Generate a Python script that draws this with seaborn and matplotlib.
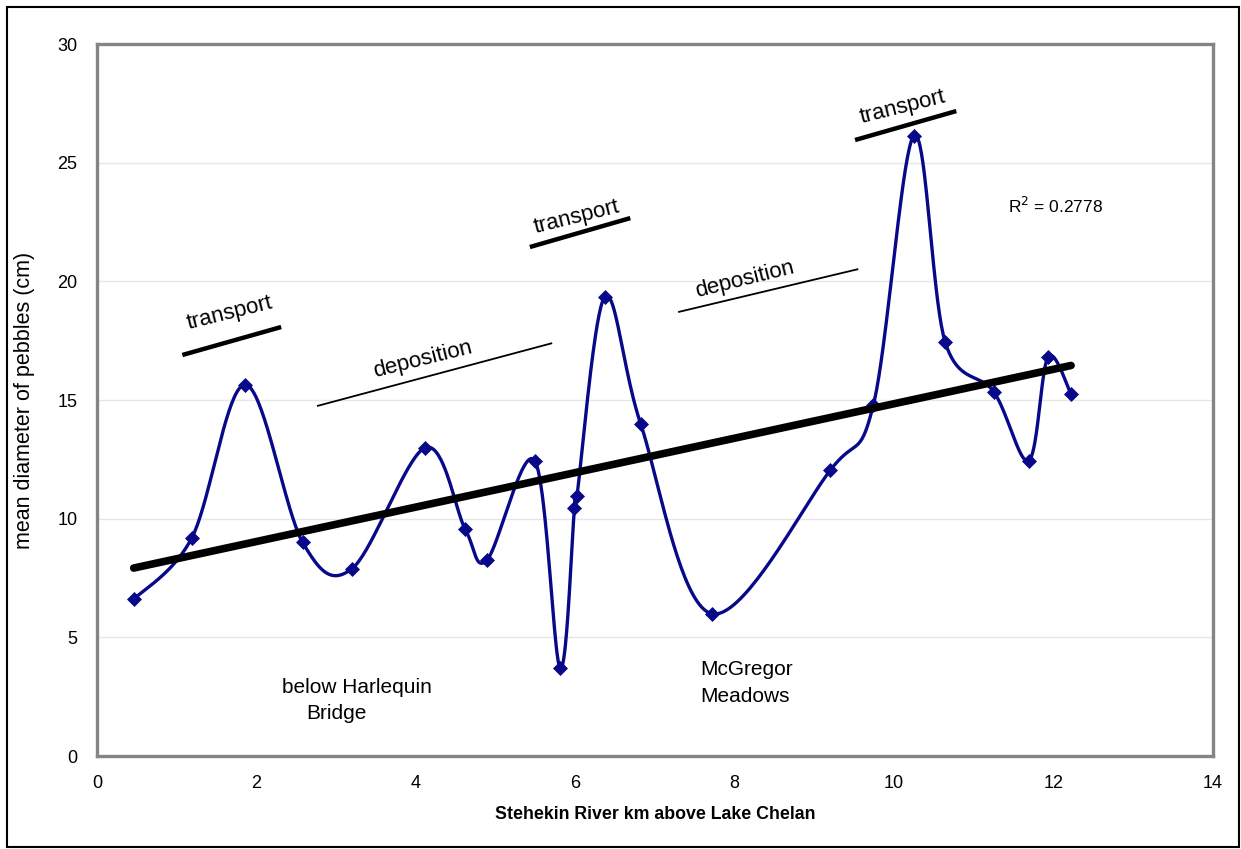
import numpy as np
import pandas as pd
import matplotlib.pyplot as plt
import seaborn as sns
from matplotlib.patches import Rectangle

river_km = [0.46, 1.19, 1.86, 2.58, 3.20, 4.12, 4.62, 4.89, 5.49, 5.81,
            5.99, 6.02, 6.37, 6.82, 7.71, 9.20, 9.74, 10.25, 10.64, 11.25,
            11.69, 11.93, 12.22]
diameter_cm = [6.6, 9.2, 15.65, 9.0, 7.9, 13.0, 9.55, 8.25, 12.45, 3.7,
               10.45, 10.95, 19.35, 14.0, 6.0, 12.05, 14.8, 26.15, 17.45, 15.35,
               12.45, 16.8, 15.25]

# annotation segments: (label, x0, y0, x1, y1, thick)
seg_labels = ['transport', 'deposition', 'transport', 'deposition', 'transport']
seg_x0 = [1.07, 2.76, 5.43, 7.29, 9.51]
seg_y0 = [16.9, 14.75, 21.45, 18.71, 25.96]
seg_x1 = [2.31, 5.71, 6.69, 9.55, 10.78]
seg_y1 = [18.08, 17.4, 22.67, 20.52, 27.18]
seg_thick = [True, False, True, False, True]
label_x = [1.67, 4.09, 6.02, 8.13, 10.11]
label_y = [18.67, 16.69, 22.71, 20.06, 27.35]

df = pd.DataFrame({'km': river_km, 'diam': diameter_cm})


def smooth_curve(x, y, sx, sy, n=40):
    # excel-style smoothed line (bezier through points), done in screen-ish units
    P = np.column_stack([np.asarray(x) * sx, np.asarray(y) * sy])
    P = np.vstack([P[0], P, P[-1]])
    out = []
    for i in range(1, len(P) - 2):
        p0, p1, p2, p3 = P[i - 1], P[i], P[i + 1], P[i + 2]
        c1 = p1 + (p2 - p0) / 6
        c2 = p2 - (p3 - p1) / 6
        t = np.linspace(0, 1, n)[:, None]
        seg = ((1 - t) ** 3) * p1 + 3 * ((1 - t) ** 2) * t * c1 + 3 * (1 - t) * t ** 2 * c2 + t ** 3 * p2
        out.append(seg if i == 1 else seg[1:])
    out = np.vstack(out)
    return out[:, 0] / sx, out[:, 1] / sy


sns.set_style("white")
plt.rcParams['font.family'] = ['Liberation Sans', 'DejaVu Sans']
plt.rcParams['text.color'] = 'black'
plt.rcParams['axes.labelcolor'] = 'black'
plt.rcParams['xtick.labelcolor'] = 'black'
plt.rcParams['ytick.labelcolor'] = 'black'

fig = plt.figure(figsize=(12.41, 8.49), dpi=100)
ax = fig.add_axes([0.0782, 0.1095, 0.8992, 0.8385])

# smoothed data line
sx_, sy_ = smooth_curve(df['km'], df['diam'], 79.7, 23.73)
curve = pd.DataFrame({'km': sx_, 'diam': sy_})
sns.lineplot(data=curve, x='km', y='diam', sort=False, color='#08088a', lw=2.4, ax=ax, zorder=3)
sns.scatterplot(data=df, x='km', y='diam', marker='D', s=50, color='#08088a',
                edgecolor='#08088a', ax=ax, zorder=4)

# linear trendline
slope, icpt = np.polyfit(df['km'], df['diam'], 1)
trend = pd.DataFrame({'km': [df['km'].min(), df['km'].max()]})
trend['diam'] = icpt + slope * trend['km']
sns.lineplot(data=trend, x='km', y='diam', color='black', lw=5.5, ax=ax, zorder=5)

# transport / deposition markers
for lab, x0, y0, x1, y1, thick, tx, ty in zip(seg_labels, seg_x0, seg_y0, seg_x1, seg_y1,
                                               seg_thick, label_x, label_y):
    ax.plot([x0, x1], [y0, y1], color='black', lw=3.2 if thick else 1.3, solid_capstyle='butt', zorder=6)
    ax.text(tx, ty, lab, fontsize=16, rotation=14, ha='center', va='center', rotation_mode='anchor')

ax.text(11.43, 23.2, 'R$^2$ = 0.2778', fontsize=12.5, ha='left', va='center')
ax.text(2.32, 2.88, 'below Harlequin', fontsize=15, ha='left', va='center')
ax.text(2.62, 1.8, 'Bridge', fontsize=15, ha='left', va='center')
ax.text(7.57, 3.65, 'McGregor', fontsize=15, ha='left', va='center')
ax.text(7.57, 2.52, 'Meadows', fontsize=15, ha='left', va='center')

ax.set_xlim(0, 14)
ax.set_ylim(0, 30)
ax.set_xticks(range(0, 15, 2))
ax.set_yticks(range(0, 31, 5))
ax.yaxis.grid(True, color='#e6e6e6', lw=1)
ax.set_axisbelow(True)
for s in ax.spines.values():
    s.set_color('#858585')
    s.set_linewidth(2.4)
ax.tick_params(axis='both', labelsize=13, length=4, color='#e0e0e0', direction='out', pad=10)
ax.set_xlabel('Stehekin River km above Lake Chelan', fontsize=12.8, fontweight='bold', labelpad=10)
ax.set_ylabel('mean diameter of pebbles (cm)', fontsize=15.5, labelpad=16)

# outer chart frame
fig.patches.append(Rectangle((0.006, 0.002), 0.992, 0.99, transform=fig.transFigure,
                             fill=False, edgecolor='black', lw=1.5))

fig.savefig('out.png', dpi=100)
